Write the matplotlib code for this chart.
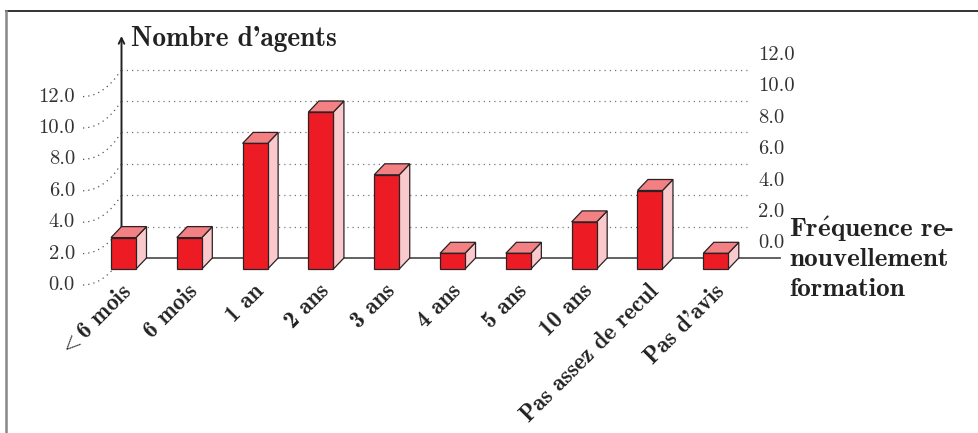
import matplotlib
matplotlib.use('Agg')
import matplotlib.pyplot as plt
from matplotlib.patches import Polygon, PathPatch
from matplotlib.path import Path
from matplotlib.lines import Line2D

# ---- data ----
categories = ['$<$6 mois', '6 mois', '1 an', '2 ans', '3 ans', '4 ans', '5 ans',
              '10 ans', 'Pas assez de recul', "Pas d'avis"]
values = [2, 2, 8, 10, 6, 1, 1, 3, 5, 1]
yticks = [0, 2, 4, 6, 8, 10, 12]
ytick_labels = ['0.0', '2.0', '4.0', '6.0', '8.0', '10.0', '12.0']
y_title = "Nombre d'agents"
x_title = ['Fr$\\acute{\\mathbf{e}}$quence re-', 'nouvellement', 'formation']

plt.rcParams['mathtext.fontset'] = 'cm'
BOLD = ['cmb10', 'DejaVu Serif']
REG = ['cmr10', 'DejaVu Serif']

W_PX, H_PX = 979, 433
fig = plt.figure(figsize=(W_PX / 100, H_PX / 100), dpi=100)
ax = fig.add_axes([0, 0, 1, 1])

# layout helpers (pixel -> data)
X0, SX = 123.5, 65.81
Y0, SY = 258.0, 15.7
def px(x):
    return (x - X0) / SX
def py(y):
    return (Y0 - y) / SY

ax.set_xlim(px(0), px(W_PX))
ax.set_ylim(py(H_PX), py(0))
ax.axis('off')

W = 12.5 / SX      # half width of front face
DX = 10.5 / SX     # depth offset x
DY = 11.0 / SY     # depth offset y

front_c = '#ED1C24'
top_c = '#F38082'
side_c = '#F9C9CC'
edge_c = '#2a2224'

axis_x = -W + DX
grid_end = px(750)

# gridlines (back plane)
for t in yticks[1:]:
    ax.plot([axis_x, grid_end], [t, t], color='#777777', lw=0.9,
            linestyle=(0, (1, 3.2)), zorder=1)
# baseline
ax.plot([axis_x, px(780)], [0, 0], color='#555555', lw=1.3, zorder=1)
# vertical axis with arrow
ax.annotate('', xy=(axis_x, py(36)), xytext=(axis_x, 0),
            arrowprops=dict(arrowstyle='->', color='#222222', lw=1.4,
                            shrinkA=0, shrinkB=0, mutation_scale=10), zorder=1)

# left tick labels + curved dotted connectors
lab_dy = 27.0 / SY
for t, lab in zip(yticks, ytick_labels):
    yl = t - lab_dy
    ax.text(px(75), yl, lab, ha='right', va='center', fontsize=14.8,
            family=REG, color='#333333')
    verts = [(px(83), yl), (px(104), yl), (axis_x, t)]
    path = Path(verts, [Path.MOVETO, Path.CURVE3, Path.CURVE3])
    ax.add_patch(PathPatch(path, fill=False, edgecolor='#555555', lw=0.9,
                           linestyle=(0, (1, 3.2)), zorder=1))

# right tick labels
for t, lab in zip(yticks, ytick_labels):
    ax.text(px(758), t + 14.5 / SY, lab, ha='left', va='center', fontsize=14.8,
            family=REG, color='#333333')

# bars
for i, v in enumerate(values):
    front = Polygon([(i - W, -DY), (i + W, -DY), (i + W, v - DY), (i - W, v - DY)],
                    closed=True, facecolor=front_c, edgecolor=edge_c, lw=0.9, zorder=3)
    top = Polygon([(i - W, v - DY), (i + W, v - DY), (i + W + DX, v), (i - W + DX, v)],
                  closed=True, facecolor=top_c, edgecolor=edge_c, lw=0.9, zorder=3)
    side = Polygon([(i + W, -DY), (i + W + DX, 0), (i + W + DX, v), (i + W, v - DY)],
                   closed=True, facecolor=side_c, edgecolor=edge_c, lw=0.9, zorder=3)
    for p in (side, top, front):
        ax.add_patch(p)

# x category labels
for i, lab in enumerate(categories):
    ax.text(i - 0.04, py(280), lab, ha='right', va='top', rotation=45,
            rotation_mode='anchor', fontsize=16.8, family=BOLD, color='#222222')

# axis titles
ax.text(px(131), py(46), y_title, ha='left', va='baseline', fontsize=19.7,
        family=BOLD, color='#222222')
for k, line in enumerate(x_title):
    ax.text(px(789), py(237 + 29.5 * k), line, ha='left', va='baseline',
            fontsize=19.5, family=BOLD, color='#222222')

# frame
fig.add_artist(Line2D([6 / W_PX, 1.0], [1 - 11 / H_PX, 1 - 11 / H_PX],
                      transform=fig.transFigure, color='#222222', lw=1.3))
fig.add_artist(Line2D([6.5 / W_PX, 6.5 / W_PX], [0, 1 - 11 / H_PX],
                      transform=fig.transFigure, color='#888888', lw=1.8))

fig.savefig('out.png', dpi=100)
